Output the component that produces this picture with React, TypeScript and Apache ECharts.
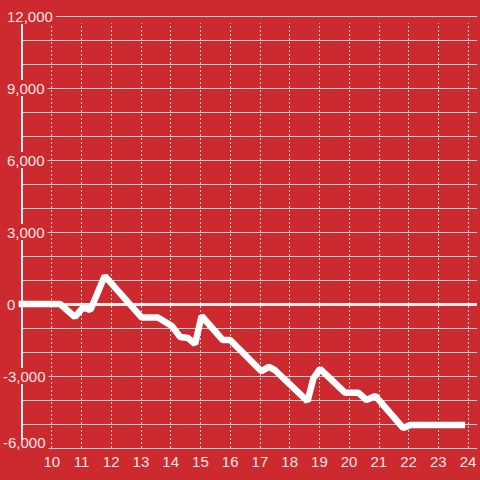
import React, { useEffect, useRef } from 'react';
import * as echarts from 'echarts';

// Hours of the day (x) and running value (y)
const hours = [8.88, 10.28, 10.78, 11.05, 11.3, 11.78, 13.02, 13.57, 14.04, 14.32, 14.58, 14.82, 15.04, 15.75, 16.0, 17.05, 17.3, 17.5, 18.6, 18.8, 19.02, 19.87, 20.32, 20.58, 20.88, 21.82, 22.05, 23.9];
const values = [0, 0, -540, -150, -250, 1170, -560, -560, -920, -1375, -1420, -1670, -500, -1500, -1500, -2800, -2620, -2750, -4050, -3100, -2700, -3700, -3700, -4000, -3830, -5170, -5040, -5040];

// hour gridlines (dashed) and their vertical extent
const hourLines = [10, 11, 12, 13, 14, 15, 16, 17, 18, 19, 20, 21, 22, 23, 24];
const hourLineTop = 11700;

const xMin = 9;
const xMax = 24.3;
const xFirstLabel = 10;
const xLastLabel = 24;
const yMin = -6000;
const yMax = 12000;
const yStep = 3000;

const BG = '#cc2a2f';
const GRID = '#d2cfcf';
const AXIS = '#eeeeee';
const ZERO = '#eeeeee';
const LABEL = '#f6e4e4';
const FONT = '"Liberation Sans", Arial, sans-serif';

const fmt = (v: number) => v.toLocaleString('en-US');

export default function App() {
  const ref = useRef<HTMLDivElement>(null);
  useEffect(() => {
    const chart = echarts.init(ref.current!, null, { renderer: 'svg' });
    const dashed = hourLines.map((h) => [
      { coord: [h, yMin], lineStyle: { color: GRID, width: 1, type: [2, 2] } },
      { coord: [h, hourLineTop] },
    ]);
    chart.setOption({
      animation: false,
      backgroundColor: BG,
      textStyle: { fontFamily: FONT },
      grid: { left: 21, right: 0, top: 16, bottom: 32, containLabel: false },
      xAxis: {
        type: 'value',
        min: xMin,
        max: xMax,
        interval: 1,
        axisLine: { show: false, onZero: false },
        axisTick: { show: false },
        axisLabel: {
          color: LABEL,
          fontSize: 15,
          fontFamily: FONT,
          margin: 6,
          formatter: (v: number) =>
            v >= xFirstLabel && v <= xLastLabel && Math.abs(v - Math.round(v)) < 1e-6 ? String(Math.round(v)) : '',
        },
        splitLine: { show: false },
      },
      yAxis: [
        {
          type: 'value',
          min: yMin,
          max: yMax,
          interval: yStep,
          z: 0,
          axisLine: { show: false },
          axisTick: { show: false },
          axisLabel: { show: false },
          splitLine: { show: true, lineStyle: { color: GRID, width: 1 } },
          minorTick: { show: false, splitNumber: 3 },
          minorSplitLine: { show: true, lineStyle: { color: GRID, width: 1 } },
        },
        {
          type: 'value',
          min: yMin,
          max: yMax,
          interval: yStep,
          position: 'left',
          z: 3,
          axisLine: { show: true, onZero: false, lineStyle: { color: AXIS, width: 2 } },
          axisTick: { show: false },
          splitLine: { show: false },
          axisLabel: {
            show: true,
            align: 'left',
            verticalAlign: 'middle',
            margin: 19,
            color: LABEL,
            fontSize: 15,
            fontFamily: FONT,
            lineHeight: 16,
            backgroundColor: BG,
            padding: [0, 3, 0, 0],
            formatter: (v: number) =>
              v === yMin ? `{b|${fmt(v)}}` : v < 0 ? `{n|${fmt(v)}}` : `{p|${fmt(v)}}`,
            rich: {
              n: { color: LABEL, fontSize: 15, fontFamily: FONT, lineHeight: 16 },
              b: { color: LABEL, fontSize: 15, fontFamily: FONT, lineHeight: 16, padding: [0, 0, 12, 0] },
              p: { color: LABEL, fontSize: 15, fontFamily: FONT, lineHeight: 16, padding: [0, 0, 0, 4] },
            },
          },
        },
      ],
      series: [
        {
          type: 'line',
          yAxisIndex: 0,
          data: hours.map((h, i) => [h, values[i]]),
          symbol: 'none',
          showSymbol: false,
          clip: false,
          z: 2,
          lineStyle: { color: '#ffffff', width: 6.5 },
          markLine: {
            z: 1,
            silent: true,
            symbol: ['none', 'none'],
            label: { show: false },
            lineStyle: { color: ZERO, width: 3, type: 'solid' },
            data: [...dashed, { yAxis: 0, lineStyle: { color: ZERO, width: 3, type: 'solid' } }],
          },
        },
      ],
    });
    return () => chart.dispose();
  }, []);
  return <div ref={ref} style={{ position: 'fixed', left: 0, top: 0, width: 480, height: 480 }} />;
}
